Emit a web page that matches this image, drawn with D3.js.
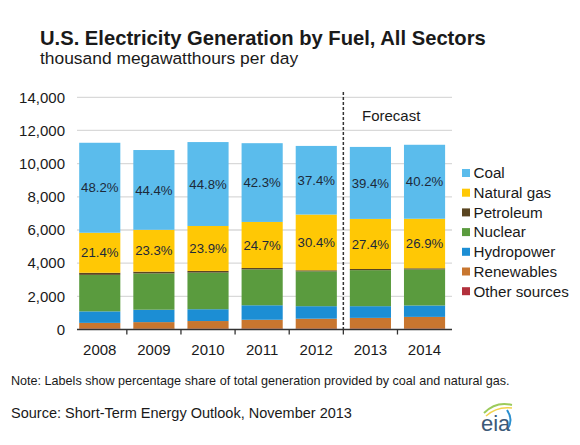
<!DOCTYPE html>
<html><head><meta charset="utf-8">
<script src="https://cdn.jsdelivr.net/npm/d3@7/dist/d3.min.js"></script>
<style>
body{margin:0;background:#fff;}
text{font-family:"Liberation Sans",Arial,sans-serif;}
</style></head>
<body><svg id="c" width="580" height="445"></svg>
<script>
const years = ["2008","2009","2010","2011","2012","2013","2014"];
const otherSources = [55, 50, 52, 55, 55, 55, 55];
const renewables   = [344, 395, 458, 532, 596, 645, 705];
const hydropower   = [694, 748, 712, 874, 754, 706, 688];
const nuclear      = [2202, 2189, 2211, 2164, 2101, 2172, 2172];
const petroleum    = [126, 106, 101, 82, 63, 70, 70];
const naturalGas   = [2412, 2523, 2707, 2778, 3362, 3019, 2986];
const coal         = [5426, 4810, 5060, 4748, 4137, 4341, 4462];
const coalPct = ["48.2%","44.4%","44.8%","42.3%","37.4%","39.4%","40.2%"];
const gasPct  = ["21.4%","23.3%","23.9%","24.7%","30.4%","27.4%","26.9%"];
const yTicks = [0,2000,4000,6000,8000,10000,12000,14000];
const seriesNames = ["Other sources","Renewables","Hydropower","Nuclear","Petroleum","Natural gas","Coal"];
const seriesColors = ["#B2303C","#C8762F","#1C8ED4","#5A9B3E","#5A4520","#FFC805","#5BBCEC"];
const legendOrder = ["Coal","Natural gas","Petroleum","Nuclear","Hydropower","Renewables","Other sources"];

const seriesData = [otherSources, renewables, hydropower, nuclear, petroleum, naturalGas, coal];
const rows = years.map((y,i)=>{const o={year:y}; seriesNames.forEach((s,k)=>o[s]=seriesData[k][i]); return o;});
const stacked = d3.stack().keys(seriesNames)(rows);
const color = d3.scaleOrdinal().domain(seriesNames).range(seriesColors);

const svg = d3.select("#c");
const x = d3.scaleBand().domain(years).range([72.7, 451.6]).paddingInner(0.24).paddingOuter(0.12);
const y = d3.scaleLinear().domain([0,14000]).range([329.5, 97.3]);

// gridlines
svg.append("g").selectAll("line").data(yTicks.filter(d=>d>0)).join("line")
  .attr("x1",77).attr("x2",452).attr("y1",d=>y(d)).attr("y2",d=>y(d))
  .attr("stroke","#d9d9d9").attr("stroke-width",1.3);

// y labels
svg.append("g").selectAll("text").data(yTicks).join("text")
  .attr("x",65).attr("y",d=>y(d)).attr("dy","0.35em").attr("text-anchor","end")
  .attr("font-size",15).attr("fill","#1a1a1a").text(d3.format(","));

// bars
svg.append("g").selectAll("g").data(stacked).join("g").attr("fill",d=>color(d.key))
  .selectAll("rect").data(d=>d).join("rect")
  .attr("x",d=>x(d.data.year)).attr("width",x.bandwidth())
  .attr("y",d=>y(d[1])).attr("height",d=>y(d[0])-y(d[1]));

// percentage labels
const coalS = stacked[seriesNames.indexOf("Coal")], gasS = stacked[seriesNames.indexOf("Natural gas")];
const lab = svg.append("g").attr("font-size",13.2).attr("fill","#1d2a3a").attr("text-anchor","middle");
lab.selectAll(".c").data(coalS).join("text").attr("class","c")
  .attr("x",d=>x(d.data.year)+x.bandwidth()/2).attr("y",d=>(y(d[0])+y(d[1]))/2).attr("dy","0.35em")
  .text((d,i)=>coalPct[i]);
lab.selectAll(".g").data(gasS).join("text").attr("class","g")
  .attr("x",d=>x(d.data.year)+x.bandwidth()/2).attr("y",d=>(y(d[0])+y(d[1]))/2).attr("dy","0.35em")
  .text((d,i)=>gasPct[i]);

// x axis
svg.append("line").attr("x1",77).attr("x2",452).attr("y1",y(0)).attr("y2",y(0)).attr("stroke","#333").attr("stroke-width",1.5);
const bounds = years.slice(0,-1).map((d,i)=> (x(d)+x.bandwidth()+x(years[i+1]))/2);
svg.append("g").selectAll("line").data(bounds).join("line")
  .attr("x1",d=>d).attr("x2",d=>d).attr("y1",y(0)).attr("y2",y(0)+5).attr("stroke","#333").attr("stroke-width",1.3);
svg.append("g").selectAll("text").data(years).join("text")
  .attr("x",d=>x(d)+x.bandwidth()/2).attr("y",355).attr("text-anchor","middle")
  .attr("font-size",15).attr("fill","#1a1a1a").text(d=>d);

// forecast divider
const fx = bounds[4];
svg.append("line").attr("x1",fx).attr("x2",fx).attr("y1",92).attr("y2",y(0))
  .attr("stroke","#333").attr("stroke-width",1.5).attr("stroke-dasharray","3,2");
svg.append("text").attr("x",362).attr("y",121).attr("font-size",15).attr("fill","#1a1a1a").text("Forecast");

// legend
const lg = svg.append("g").selectAll("g").data(legendOrder).join("g")
  .attr("transform",(d,i)=>`translate(462,${173+i*19.7})`);
lg.append("rect").attr("x",0).attr("y",-4).attr("width",8).attr("height",8).attr("fill",d=>color(d));
lg.append("text").attr("x",11.5).attr("y",0).attr("dy","0.35em").attr("font-size",15.2).attr("fill","#1a1a1a").text(d=>d);

// titles
svg.append("text").attr("x",40).attr("y",45).attr("font-size",20.2).attr("font-weight","bold").attr("fill","#1a1a1a")
  .text("U.S. Electricity Generation by Fuel, All Sectors");
svg.append("text").attr("x",40).attr("y",64).attr("font-size",17.4).attr("fill","#1a1a1a")
  .text("thousand megawatthours per day");

// notes
svg.append("text").attr("x",11).attr("y",385).attr("font-size",12.6).attr("fill","#1a1a1a")
  .text("Note: Labels show percentage share of total generation provided by coal and natural gas.");
svg.append("text").attr("x",11).attr("y",418).attr("font-size",14.5).attr("fill","#1a1a1a")
  .text("Source: Short-Term Energy Outlook, November 2013");

// eia logo
const logo = svg.append("g");
logo.append("path").attr("d","M484,413 Q496,401 512,405").attr("fill","none").attr("stroke","#9ccb5b").attr("stroke-width",2);
logo.append("path").attr("d","M486,416 Q497,406 512,408").attr("fill","none").attr("stroke","#f2d24b").attr("stroke-width",1.5);
logo.append("path").attr("d","M507,410 Q514,420 507,430").attr("fill","none").attr("stroke","#2a8fcf").attr("stroke-width",2);
logo.append("text").attr("x",481).attr("y",431).attr("font-family","Liberation Serif, serif").attr("font-size",22).attr("fill","#3d5a78").text("eia");
</script></body></html>
